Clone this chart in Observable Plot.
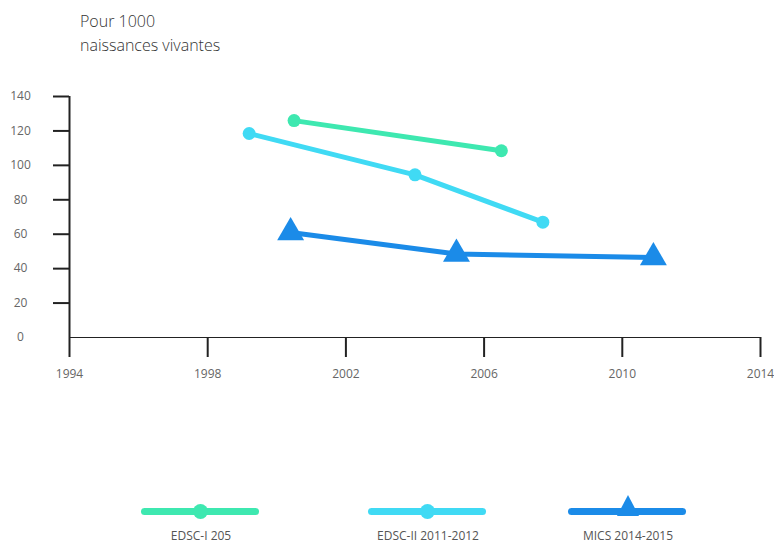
<!DOCTYPE html>
<html>
<head>
<meta charset="utf-8">
<script src="https://cdn.jsdelivr.net/npm/d3@7"></script>
<script src="https://cdn.jsdelivr.net/npm/@observablehq/plot@0.6"></script>
<style>
  body { margin: 0; background: #fff; font-family: "Open Sans", sans-serif; }
  #wrap { position: relative; width: 774px; height: 544px; }
  #title { position: absolute; left: 80px; top: 9px; font-size: 16px; line-height: 24px; color: #333; font-weight: 300; }
  .leg { position: absolute; top: 500px; width: 120px; text-align: center; }
  .leg .bar { position: absolute; left: 0; top: 8px; width: 118px; height: 7px; border-radius: 4px; }
  .leg .mk { position: absolute; }
  .leg .lab { position: absolute; top: 27px; left: -20px; width: 160px; text-align: center; font-size: 12px; color: #555; }
</style>
</head>
<body>
<div id="wrap">
  <div id="title">Pour 1000<br>naissances vivantes</div>
  <div id="chart"></div>
  <div id="legend"></div>
</div>
<script>
const seriesNames = ["EDSC-I 205", "EDSC-II 2011-2012", "MICS 2014-2015"];
const seriesColors = ["#3ee8b0", "#40daf4", "#1b8be8"];
const edsc1Years = [2000.5, 2006.5];
const edsc1Values = [126, 108.5];
const edsc2Years = [1999.2, 2004.0, 2007.7];
const edsc2Values = [118.5, 94.5, 67];
const micsYears = [2000.4, 2005.2, 2010.9];
const micsValues = [61, 48.5, 46.5];
const xTicks = [1994, 1998, 2002, 2006, 2010, 2014];
const yTicks = [0, 20, 40, 60, 80, 100, 120, 140];

const mk = (years, values, s) => years.map((y, i) => ({year: y, value: values[i], series: s}));
const d1 = mk(edsc1Years, edsc1Values, seriesNames[0]);
const d2 = mk(edsc2Years, edsc2Values, seriesNames[1]);
const d3s = mk(micsYears, micsValues, seriesNames[2]);

const chart = Plot.plot({
  width: 774,
  height: 544,
  marginLeft: 69,
  marginRight: 14,
  marginTop: 96,
  marginBottom: 207,
  style: {fontFamily: "Open Sans, sans-serif", fontSize: "12px", color: "#666", background: "transparent"},
  x: {domain: [1994, 2014]},
  y: {domain: [0, 140]},
  marks: [
    Plot.ruleY([0], {stroke: "#222", strokeWidth: 1}),
    Plot.ruleX([1994], {stroke: "#222", strokeWidth: 2}),
    Plot.axisY({ticks: yTicks.filter(d => d > 0), tickSize: 16, text: null, stroke: "#222", strokeWidth: 2, label: null}),
    Plot.text(yTicks, {y: d => d, text: d => String(d), frameAnchor: "left", dx: -49, textAnchor: "middle", fill: "#666", fontSize: 12}),
    Plot.axisX({ticks: xTicks, tickSize: 20, tickPadding: 12, tickFormat: d => String(d), stroke: "#222", strokeWidth: 2, fill: "#666", label: null, fontSize: 12}),
    Plot.line(d1, {x: "year", y: "value", stroke: seriesColors[0], strokeWidth: 5}),
    Plot.dot(d1, {x: "year", y: "value", fill: seriesColors[0], r: 6.5}),
    Plot.line(d2, {x: "year", y: "value", stroke: seriesColors[1], strokeWidth: 5}),
    Plot.dot(d2, {x: "year", y: "value", fill: seriesColors[1], r: 6.5}),
    Plot.line(d3s, {x: "year", y: "value", stroke: seriesColors[2], strokeWidth: 5}),
    Plot.dot(d3s, {x: "year", y: "value", fill: seriesColors[2], symbol: "triangle", r: 10})
  ]
});
const c = document.getElementById("chart");
c.style.position = "absolute"; c.style.left = "0"; c.style.top = "0";
c.appendChild(chart);

const legLeft = [141, 368, 568];
const leg = document.getElementById("legend");
seriesNames.forEach((name, i) => {
  const el = document.createElement("div");
  el.className = "leg";
  el.style.left = legLeft[i] + "px";
  const bar = document.createElement("div");
  bar.className = "bar"; bar.style.background = seriesColors[i];
  el.appendChild(bar);
  const m = document.createElement("div");
  m.className = "mk";
  if (i < 2) {
    m.style.cssText = `left:52px;top:4px;width:15px;height:15px;border-radius:50%;background:${seriesColors[i]}`;
  } else {
    m.style.cssText = `left:49px;top:-5px;width:0;height:0;border-left:11px solid transparent;border-right:11px solid transparent;border-bottom:21px solid ${seriesColors[i]}`;
  }
  el.appendChild(m);
  const lab = document.createElement("div");
  lab.className = "lab"; lab.textContent = name;
  el.appendChild(lab);
  leg.appendChild(el);
});
</script>
</body>
</html>
